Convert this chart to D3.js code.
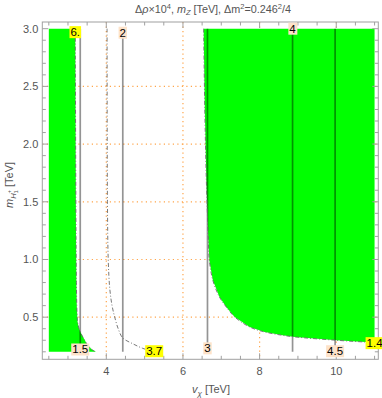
<!DOCTYPE html>
<html><head><meta charset="utf-8">
<script src="https://cdn.jsdelivr.net/npm/d3@7"></script>
<style>
body{margin:0;background:#fff;}
svg{display:block;font-family:"Liberation Sans",Arial,sans-serif;}
</style></head>
<body><svg id="c" width="382" height="398"></svg>
<script>
// ---- data ----
const xMajorTicks = [4, 6, 8, 10];
const yMajorTicks = [0.5, 1.0, 1.5, 2.0, 2.5, 3.0];
const xGrid = [4, 6, 8, 10];
const yGrid = [0.5, 1.0, 1.5, 2.0, 2.5];
// Δρ contours (dashed) as [vχ, mH]
const rho6 = [[3.19,3.0],[3.20,2.0],[3.21,1.2],[3.22,0.8],[3.23,0.6],[3.25,0.46],[3.29,0.40],[3.34,0.36],[3.49,0.27],[3.62,0.22],[3.73,0.2]];
const rho37 = [[4.02,3.0],[4.03,1.5],[4.05,1.0],[4.09,0.75],[4.15,0.6],[4.22,0.5],[4.31,0.4],[4.43,0.32],[4.69,0.27],[4.95,0.23],[5.2,0.205]];
const rho14 = [[6.54,3.0],[6.57,2.3],[6.61,1.69],[6.66,1.2],[6.69,0.99],[6.78,0.82],[6.95,0.676],[7.13,0.589],[7.35,0.502],[7.74,0.415],[8.13,0.372],[8.6,0.343],[8.92,0.329],[10.0,0.30],[10.75,0.285],[11.0,0.282]];
// m_Z contours (vertical solid lines)
const mzX = [3.32, 4.43, 6.64, 8.86, 9.97];
const mzLabels = ["1.5", "2", "3", "4", "4.5"];
const mzLabelY = [0.22, 2.965, 0.23, 3.0, 0.205];
const rhoLabels = ["6.", "3.7", "1.4"];
const rhoLabelX = [3.19, 5.25, 11.0];
const rhoLabelY = [2.97, 0.205, 0.275];
const xMin = 2.5, xMax = 11.0, yMin = 0.2, yMax = 3.0;

// ---- layout ----
const L = 42.3, R = 378.3, T = 22, B = 359.3;
const x = d3.scaleLinear().domain([2.33, 11.097]).range([L, R]);
const y = d3.scaleLinear().domain([0.135, 3.058]).range([B, T]);
const svg = d3.select("#c");

// grid lines
const gridC = "#ffa54a";
svg.append("g").selectAll("line").data(xGrid).join("line")
  .attr("x1", d => x(d)).attr("x2", d => x(d)).attr("y1", T).attr("y2", B)
  .attr("stroke", gridC).attr("stroke-width", 1.2).attr("stroke-dasharray", "1.2,3.3");
svg.append("g").selectAll("line").data(yGrid).join("line")
  .attr("y1", d => y(d)).attr("y2", d => y(d)).attr("x1", L).attr("x2", R)
  .attr("stroke", gridC).attr("stroke-width", 1.2).attr("stroke-dasharray", "1.2,3.3");

// green regions
const line = d3.line().x(d => x(d[0])).y(d => y(d[1]));
const leftPoly = [[xMin, yMax]].concat(rho6).concat([[xMin, yMin]]);
const rightPoly = rho14.concat([[xMax, yMax]]);
svg.append("path").attr("d", line(leftPoly) + "Z").attr("fill", "#00ff00");
svg.append("path").attr("d", line(rightPoly) + "Z").attr("fill", "#00ff00");

// m_Z contour lines
svg.append("g").selectAll("line").data(mzX).join("line")
  .attr("x1", d => x(d)).attr("x2", d => x(d)).attr("y1", y(yMax)).attr("y2", y(yMin))
  .attr("stroke", "rgba(0,0,0,0.42)").attr("stroke-width", 1.7);

// Δρ contour lines (dashed)
[rho6, rho37, rho14].forEach(c => {
  svg.append("path").attr("d", d3.line().curve(d3.curveCatmullRom.alpha(0.5)).x(d => x(d[0])).y(d => y(d[1]))(c))
    .attr("fill", "none").attr("stroke", "#6a6a6a").attr("stroke-width", 0.9)
    .attr("stroke-dasharray", "4,2,1,2");
});

// frame
svg.append("rect").attr("x", L).attr("y", T).attr("width", R - L).attr("height", B - T)
  .attr("fill", "none").attr("stroke", "#a0a0a0").attr("stroke-width", 1);

// ticks
const tickC = "#a0a0a0";
const xMinor = d3.range(2.5, 11.01, 0.5).filter(v => !xMajorTicks.includes(v));
const yMinor = d3.range(0.2, 3.001, 0.1).map(v => +v.toFixed(1)).filter(v => !yMajorTicks.includes(v));
const tg = svg.append("g").attr("stroke", tickC).attr("stroke-width", 1);
function xt(vals, len) {
  vals.forEach(v => {
    tg.append("line").attr("x1", x(v)).attr("x2", x(v)).attr("y1", B).attr("y2", B - len);
    tg.append("line").attr("x1", x(v)).attr("x2", x(v)).attr("y1", T).attr("y2", T + len);
  });
}
function yt(vals, len) {
  vals.forEach(v => {
    tg.append("line").attr("y1", y(v)).attr("y2", y(v)).attr("x1", L).attr("x2", L + len);
    tg.append("line").attr("y1", y(v)).attr("y2", y(v)).attr("x1", R).attr("x2", R - len);
  });
}
xt(xMajorTicks, 6); xt(xMinor, 3.5);
yt(yMajorTicks, 6); yt(yMinor, 3.5);

// tick labels
const lblC = "#555";
svg.append("g").selectAll("text").data(xMajorTicks).join("text")
  .attr("x", d => x(d)).attr("y", B + 16).attr("text-anchor", "middle")
  .attr("font-size", 11).attr("fill", lblC).text(d => d);
svg.append("g").selectAll("text").data(yMajorTicks).join("text")
  .attr("x", L - 4).attr("y", d => y(d) + 4).attr("text-anchor", "end")
  .attr("font-size", 11).attr("fill", lblC).text(d => d.toFixed(1));

// contour labels
function label(txt, cx, cy, bg) {
  const g = svg.append("g");
  const t = g.append("text").attr("x", x(cx)).attr("y", y(cy) + 4).attr("text-anchor", "middle")
    .attr("font-size", 11.5).attr("fill", "#000").text(txt);
  const bb = t.node().getBBox();
  g.insert("rect", "text").attr("x", bb.x - 1).attr("y", y(cy) - 6).attr("width", bb.width + 2).attr("height", 12)
    .attr("fill", bg);
}
mzLabels.forEach((t, i) => label(t, mzX[i], mzLabelY[i], "#fde2c9"));
rhoLabels.forEach((t, i) => label(t, rhoLabelX[i], rhoLabelY[i], "#ffff00"));

// title
const title = svg.append("text").attr("x", 213).attr("y", 13).attr("text-anchor", "middle")
  .attr("font-size", 10.8).attr("fill", "#555");
title.append("tspan").text("Δ");
title.append("tspan").attr("font-style", "italic").text("ρ");
title.append("tspan").text("×10");
title.append("tspan").attr("font-size", 7.5).attr("dy", -4).text("4");
title.append("tspan").attr("dy", 4).text(", ");
title.append("tspan").attr("font-style", "italic").text("m");
title.append("tspan").attr("font-style", "italic").attr("font-size", 7.5).attr("dy", 2).text("Z");
title.append("tspan").attr("dy", -2).text(" [TeV], Δm");
title.append("tspan").attr("font-size", 7.5).attr("dy", -4).text("2");
title.append("tspan").attr("dy", 4).text("=0.246");
title.append("tspan").attr("font-size", 7.5).attr("dy", -4).text("2");
title.append("tspan").attr("dy", 4).text("/4");

// x axis label
const xl = svg.append("text").attr("x", 211).attr("y", 393).attr("text-anchor", "middle")
  .attr("font-size", 11).attr("fill", "#555");
xl.append("tspan").attr("font-style", "italic").text("v");
xl.append("tspan").attr("font-style", "italic").attr("font-size", 8).attr("dy", 3).text("χ");
xl.append("tspan").attr("dy", -3).text(" [TeV]");

// y axis label
const yl = svg.append("text").attr("transform", "translate(13,185) rotate(-90)").attr("text-anchor", "middle")
  .attr("font-size", 11).attr("fill", "#555");
yl.append("tspan").attr("font-style", "italic").text("m");
yl.append("tspan").attr("font-style", "italic").attr("font-size", 7.5).attr("dy", 3).text("H");
yl.append("tspan").attr("font-size", 6).attr("dy", 2).text("1");
yl.append("tspan").attr("font-size", 6).attr("dx", -3.5).attr("dy", -7).text("+");
yl.append("tspan").attr("dy", 2).text(" [TeV]");
</script></body></html>
